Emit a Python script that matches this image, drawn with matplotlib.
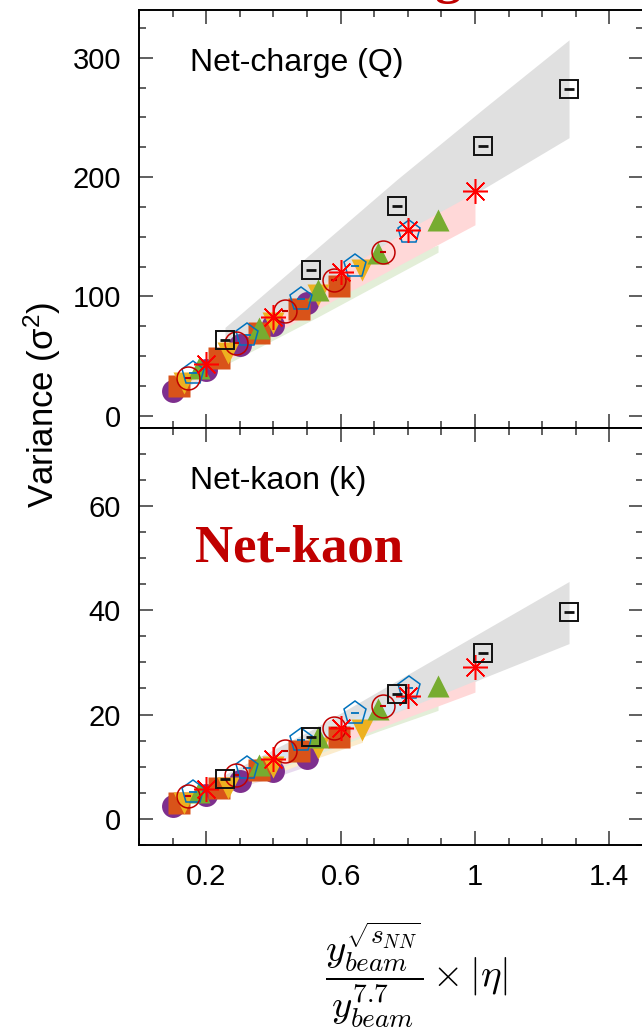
import matplotlib
matplotlib.use("Agg")
import matplotlib.pyplot as plt
from matplotlib.ticker import FixedLocator, MultipleLocator

plt.rcParams['font.family'] = ['Liberation Sans', 'DejaVu Sans']
plt.rcParams['mathtext.fontset'] = 'cm'

# x = (y_beam / y_beam(7.7)) * |eta|, one list per beam energy
x_77 = [0.1, 0.2, 0.3, 0.4, 0.5]
x_115 = [0.119, 0.238, 0.357, 0.476, 0.595]
x_145 = [0.133, 0.266, 0.399, 0.532, 0.665]
x_196 = [0.145, 0.29, 0.435, 0.58, 0.725]
x_27 = [0.161, 0.322, 0.483, 0.644, 0.805]
x_39 = [0.178, 0.356, 0.534, 0.712, 0.89]
x_624 = [0.2, 0.4, 0.6, 0.8, 1.0]
x_200 = [0.256, 0.512, 0.768, 1.024, 1.28]

# net-charge variance
q_77 = [21, 38.5, 59, 76, 94.7]
q_115 = [24.6, 48.6, 69.5, 89.7, 109]
q_145 = [27.7, 52.8, 78, 101, 122]
q_196 = [31.8, 61, 87.4, 113.4, 137]
q_27 = [36, 68, 98, 125.7, 153.6]
q_39 = [40, 73.5, 105.6, 136.6, 164]
q_624 = [43.6, 83, 120, 156, 188]
q_200 = [63.7, 122, 176, 226, 274]

# net-kaon variance
k_77 = [2.4, 4.6, 7.2, 9.2, 11.7]
k_115 = [3.1, 5.9, 9.4, 13, 15.7]
k_145 = [3.0, 5.9, 9.9, 13.6, 17.1]
k_196 = [4.3, 8.5, 13, 17.4, 21.6]
k_27 = [5.2, 9.7, 15.2, 20.3, 25.1]
k_39 = [5.2, 10.4, 15.7, 21, 25.5]
k_624 = [5.7, 11.5, 17.4, 23.5, 29.1]
k_200 = [7.7, 15.7, 23.9, 31.7, 39.7]

# expectation bands (low, high)
qb_200 = ([55, 100, 146, 190, 233], [74, 136, 198, 257, 315])
qb_77 = ([18, 33, 51, 65, 81], [20, 37, 57, 73, 91])
qb_115 = ([21, 42, 60, 77, 94], [24, 47, 67, 86, 105])
qb_145 = ([24, 45, 67, 87, 105], [27, 51, 75, 97, 117])
qb_196 = ([27, 52, 75, 98, 118], [31, 59, 84, 109, 132])
qb_27 = ([31, 58, 84, 108, 132], [35, 65, 94, 121, 147])
qb_39 = ([31, 57, 83, 110, 137], [37, 68, 97, 125, 143])
qb_624 = ([36, 68, 100, 130, 160], [44, 83, 120, 156, 187])

kb_200 = ([6.5, 13, 20, 27, 33.6], [8.5, 17, 26.5, 36, 45.5])
kb_77 = ([2.1, 4.0, 6.2, 7.9, 10.1], [2.3, 4.4, 6.9, 8.8, 11.2])
kb_115 = ([2.7, 5.1, 8.1, 11.2, 13.5], [3.0, 5.7, 9.0, 12.5, 15.1])
kb_145 = ([2.6, 5.1, 8.5, 11.7, 14.7], [2.9, 5.7, 9.5, 13.1, 16.4])
kb_196 = ([3.7, 7.3, 11.2, 15, 18.6], [4.1, 8.2, 12.5, 16.7, 20.7])
kb_27 = ([4.5, 8.3, 13.1, 17.5, 21.6], [5.0, 9.3, 14.6, 19.5, 24.1])
kb_39 = ([4.0, 8.2, 12.5, 16.8, 20.8], [4.5, 9.1, 13.7, 18, 22.2])
kb_624 = ([4.7, 9.5, 14.5, 19.5, 24.3], [5.3, 10.6, 16, 21.3, 26.5])

# drawing order of the bands: gray first, pink last
xs = [x_200, x_77, x_115, x_145, x_196, x_27, x_39, x_624]
band_cols = ['#e0e0e0', '#e8daef', '#f8ddcf', '#fbeccd', '#f3d6d6',
             '#d8e6f3', '#e3eed8', '#ffd8d8']

fig = plt.figure(figsize=(6.42, 10.35), dpi=100)
ax1 = fig.add_axes([0.2165, 0.5869, 0.785, 0.4034])
ax2 = fig.add_axes([0.2165, 0.1836, 0.785, 0.4033])


def draw(ax, vals, bands):
    for xv, (lo, hi), c in zip(xs, bands, band_cols):
        ax.fill_between(xv, lo, hi, color=c, lw=0, zorder=1)
    v77, v115, v145, v196, v27, v39, v624, v200 = vals
    ax.plot(x_77, v77, 'o', ms=16.5, color='#7E2F8E', mec='none', zorder=3)
    ax.plot(x_115, v115, 's', ms=16.5, color='#D95319', mec='none', zorder=3)
    ax.plot(x_145, v145, 'v', ms=16, color='#EDB120', mec='none', zorder=3)
    ax.plot(x_39, v39, '^', ms=16, color='#77AC30', mec='none', zorder=3)
    ax.plot(x_27, v27, 'p', ms=17, mfc='none', mec='#0072BD', mew=1.1, ls='none', zorder=4)
    ax.plot(x_27, v27, '_', ms=6, color='#0072BD', mew=1.3, ls='none', zorder=4)
    ax.plot(x_196, v196, 'o', ms=16.5, mfc='none', mec='#C00000', mew=1.1, ls='none', zorder=4)
    ax.plot(x_196, v196, '_', ms=4, color='#C00000', mew=1.5, ls='none', zorder=4)
    ax.plot(x_624, v624, marker=(8, 2, 0), ms=18, color='#FF0000', mew=1.1, ls='none', zorder=5)
    ax.plot(x_200, v200, 's', ms=13.5, mfc='none', mec='#111111', mew=1.4, ls='none', zorder=6)
    ax.plot(x_200, v200, '_', ms=7, color='#111111', mew=2, ls='none', zorder=6)


draw(ax1, [q_77, q_115, q_145, q_196, q_27, q_39, q_624, q_200],
     [qb_200, qb_77, qb_115, qb_145, qb_196, qb_27, qb_39, qb_624])
draw(ax2, [k_77, k_115, k_145, k_196, k_27, k_39, k_624, k_200],
     [kb_200, kb_77, kb_115, kb_145, kb_196, kb_27, kb_39, kb_624])

ax1.set_ylim(-10, 340)
ax2.set_ylim(-5, 75)
ax1.yaxis.set_major_locator(FixedLocator([0, 100, 200, 300]))
ax1.yaxis.set_minor_locator(MultipleLocator(25))
ax2.yaxis.set_major_locator(FixedLocator([0, 20, 40, 60]))
ax2.yaxis.set_minor_locator(MultipleLocator(5))

for ax in (ax1, ax2):
    ax.set_xlim(0, 1.5)
    ax.xaxis.set_major_locator(FixedLocator([0.2, 0.6, 1.0, 1.4]))
    ax.xaxis.set_minor_locator(MultipleLocator(0.1))
    ax.tick_params(which='both', direction='in', top=True, right=True,
                   color='#444444', width=1.2, labelsize=21, pad=13)
    ax.tick_params(which='major', length=10)
    ax.tick_params(which='minor', length=5)
    for s in ax.spines.values():
        s.set_linewidth(1.4)
ax1.tick_params(labelbottom=False)
ax2.set_xticklabels(['0.2', '0.6', '1', '1.4'])

ax1.text(0.101, 0.873, 'Net-charge (Q)', transform=ax1.transAxes,
         fontsize=23, va='center', ha='left')
ax2.text(0.101, 0.873, 'Net-kaon (k)', transform=ax2.transAxes,
         fontsize=23, va='center', ha='left')

fig.text(195 / 642, 1 - 549 / 1035, 'Net-kaon', fontsize=38, color='#C00000',
         fontweight='bold', family='Liberation Serif', va='center', ha='left')
fig.text(236 / 642, 1 + 7 / 1035, 'Net-charge', fontsize=38, color='#C00000',
         fontweight='bold', family='Liberation Serif', va='baseline', ha='left')

fig.text(42 / 642, 1 - 405 / 1035, r'Variance ($\mathregular{\sigma^2}$)',
         fontsize=25, rotation=90, va='center', ha='center')
fig.text(417 / 642, 1 - 975 / 1035,
         r'$\dfrac{y_{beam}^{\sqrt{s_{NN}}}}{y_{beam}^{7.7}}\times|\eta|$',
         fontsize=28, va='center', ha='center')

plt.savefig("out.png", dpi=100)
